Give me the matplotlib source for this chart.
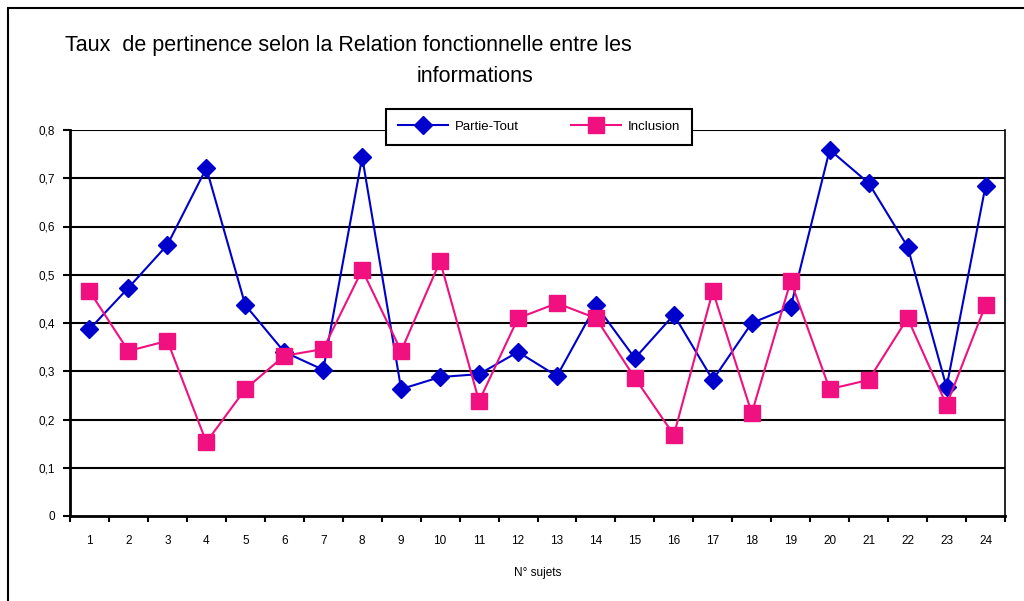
import matplotlib
matplotlib.use("Agg")
import matplotlib.pyplot as plt
from matplotlib.patches import Rectangle
import numpy as np

subjects = [str(i) for i in range(1, 25)]
partie_tout = [0.387, 0.473, 0.562, 0.721, 0.437, 0.340, 0.303, 0.744, 0.263, 0.288,
               0.294, 0.340, 0.290, 0.437, 0.327, 0.417, 0.282, 0.400, 0.433, 0.759,
               0.690, 0.558, 0.267, 0.684]
inclusion = [0.466, 0.342, 0.363, 0.153, 0.263, 0.332, 0.346, 0.510, 0.342, 0.528,
             0.238, 0.410, 0.441, 0.410, 0.286, 0.168, 0.466, 0.213, 0.487, 0.263,
             0.282, 0.410, 0.230, 0.437]
y_ticks = [0, 0.1, 0.2, 0.3, 0.4, 0.5, 0.6, 0.7, 0.8]
y_labels = ["0", "0,1", "0,2", "0,3", "0,4", "0,5", "0,6", "0,7", "0,8"]

plt.rcParams['font.family'] = ['Liberation Sans', 'DejaVu Sans']

fig = plt.figure(figsize=(10.24, 6.01), dpi=100)
fig.patches.append(Rectangle((8/1024, -0.1), 1.2, 1 - 8/601 + 0.1, transform=fig.transFigure,
                             fill=False, edgecolor='black', linewidth=1.5))

ax = fig.add_axes([70/1024, 1 - 516/601, (1005 - 70)/1024, (516 - 130)/601])
x = np.arange(1, 25)
ax.plot(x, partie_tout, color='#0000CC', marker='D', markersize=9, linewidth=1.5,
        label='Partie-Tout')
ax.plot(x, inclusion, color='#F0107F', marker='s', markersize=11, linewidth=1.5,
        label='Inclusion')

ax.set_xlim(0.5, 24.5)
ax.set_ylim(0, 0.8)
ax.set_yticks(y_ticks)
ax.set_yticklabels(y_labels, fontsize=8.5)
ax.set_xticks(x)
ax.set_xticklabels(subjects, fontsize=8.5)
ax.set_xticks(np.arange(0.5, 25, 1), minor=True)
ax.tick_params(axis='x', which='major', length=0, pad=14)
ax.tick_params(axis='x', which='minor', length=4, width=1.5, direction='out')
ax.tick_params(axis='y', length=5, width=1.5, direction='out', pad=6)
for yv in y_ticks[1:]:
    ax.axhline(yv, color='black', linewidth=1.5, zorder=1)
for s in ['left', 'bottom']:
    ax.spines[s].set_linewidth(2)
ax.spines['top'].set_visible(False)
ax.spines['right'].set_linewidth(1.2)
ax.set_xlabel('N° sujets', fontsize=8.5, labelpad=14)

fig.text(65/1024, 1 - 45/601, 'Taux  de pertinence selon la Relation fonctionnelle entre les',
         fontsize=15.5, ha='left', va='center')
fig.text(475/1024, 1 - 77/601, 'informations', fontsize=15.5, ha='center', va='center')

leg = ax.legend(loc='center', bbox_to_anchor=((385 + 693) / 2 / 1024, 1 - 127/601),
                bbox_transform=fig.transFigure, ncol=2, fontsize=9.5, frameon=True,
                fancybox=False, edgecolor='black', framealpha=1, borderpad=0.9,
                handlelength=3.8, columnspacing=4, handletextpad=0.5)
leg.get_frame().set_linewidth(1.5)
leg.set_zorder(10)

fig.savefig('out.png', dpi=100)
